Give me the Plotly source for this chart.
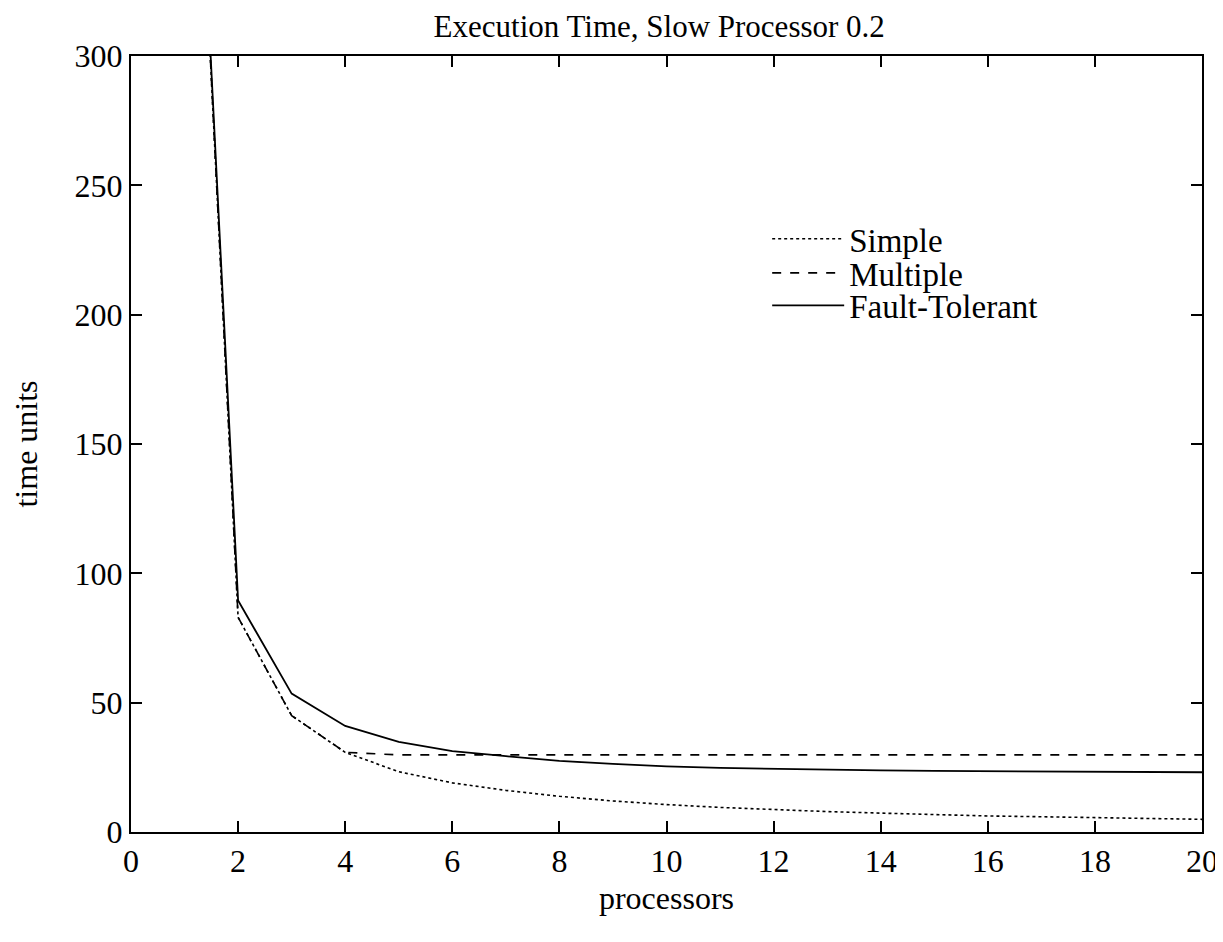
import plotly.graph_objects as go

processors = list(range(1, 21))
simple = [500, 83, 45, 30.8, 23.3, 19.0, 16.1, 13.8, 12.0, 10.6,
          9.5, 8.6, 7.9, 7.3, 6.7, 6.2, 5.9, 5.6, 5.2, 4.9]
multiple = [500, 83, 45, 30.8, 29.8, 29.8, 29.8, 29.8, 29.8, 29.8,
            29.8, 29.8, 29.8, 29.8, 29.8, 29.8, 29.8, 29.8, 29.8, 29.8]
fault_tolerant = [500, 89.5, 53.5, 41, 34.8, 31.3, 29.3, 27.5, 26.3, 25.4,
                  24.8, 24.4, 24.1, 23.8, 23.6, 23.5, 23.4, 23.3, 23.2, 23.1]

x_ticks = list(range(0, 21, 2))
y_ticks = list(range(0, 301, 50))

FONT = "Liberation Serif, Times New Roman, serif"

fig = go.Figure()
fig.add_trace(go.Scatter(x=processors, y=simple, mode="lines", name="Simple",
                         legend="legend",
                         line=dict(color="black", width=1.6, dash="dot")))
fig.add_trace(go.Scatter(x=processors, y=multiple, mode="lines", name="Multiple",
                         legend="legend2",
                         line=dict(color="black", width=1.6, dash="dash")))
fig.add_trace(go.Scatter(x=processors, y=fault_tolerant, mode="lines", name="Fault-Tolerant",
                         legend="legend3",
                         line=dict(color="black", width=1.8)))

axis_common = dict(showgrid=False, zeroline=False, showline=True, linecolor="black",
                   linewidth=2, mirror="ticks", ticks="inside", ticklen=11,
                   tickwidth=1.5, tickcolor="black", automargin=False,
                   ticklabeloverflow="allow",
                   tickfont=dict(family=FONT, size=32, color="black"))

leg_common = dict(x=0.594, xanchor="left", yanchor="middle",
                  bgcolor="rgba(0,0,0,0)", borderwidth=0,
                  font=dict(family=FONT, size=33, color="black"),
                  itemwidth=72)

fig.update_layout(
    width=1215, height=934,
    margin=dict(l=123, r=21, t=48, b=110),
    paper_bgcolor="white", plot_bgcolor="white",
    font=dict(family=FONT, color="black"),
    title=dict(text="Execution Time, Slow Processor 0.2", x=0.536, xanchor="center",
               y=0.981, yanchor="middle", font=dict(family=FONT, size=31, color="black")),
    xaxis=dict(range=[0, 20], tickvals=x_ticks, ticktext=[str(v) for v in x_ticks],
               title=dict(text="processors", font=dict(family=FONT, size=32), standoff=8),
               **axis_common),
    yaxis=dict(range=[0, 300], tickvals=y_ticks, ticktext=[str(v) for v in y_ticks],
               title=dict(text="time units", font=dict(family=FONT, size=32), standoff=27),
               **axis_common),
    legend=dict(y=0.7645, **leg_common),
    legend2=dict(y=0.7205, **leg_common),
    legend3=dict(y=0.6785, **leg_common),
    showlegend=True,
)

fig.write_html("out.html")
